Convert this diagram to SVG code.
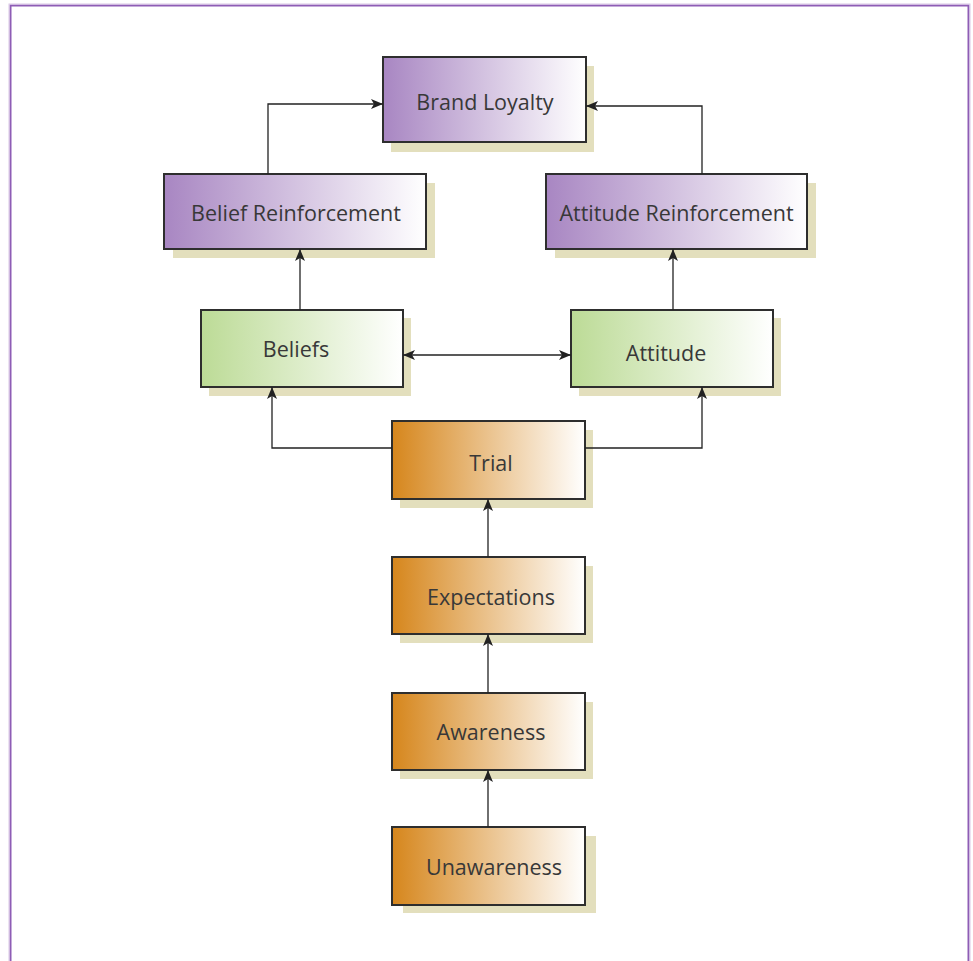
<svg xmlns="http://www.w3.org/2000/svg" width="973" height="961" viewBox="0 0 973 961">
  <defs>
    <linearGradient id="gPurple" x1="0" y1="0" x2="1" y2="0">
      <stop offset="0" stop-color="#A886C2"/>
      <stop offset="1" stop-color="#FFFFFF"/>
    </linearGradient>
    <linearGradient id="gGreen" x1="0" y1="0" x2="1" y2="0">
      <stop offset="0" stop-color="#BCDB96"/>
      <stop offset="1" stop-color="#FFFFFF"/>
    </linearGradient>
    <linearGradient id="gOrange" x1="0" y1="0" x2="1" y2="0">
      <stop offset="0" stop-color="#D6861C"/>
      <stop offset="1" stop-color="#FFFFFF"/>
    </linearGradient>
    <marker id="arrow" viewBox="0 0 12 10" refX="12" refY="5" markerWidth="12" markerHeight="10" markerUnits="userSpaceOnUse" orient="auto-start-reverse">
      <path d="M0,0 L12,5 L0,10 L3,5 Z" fill="#222"/>
    </marker>
  </defs>
  <style>
    .shadow { fill: #E3DFBD; }
    .box { stroke: #2E2E2E; stroke-width: 2; }
    .label { font-family: "Open Sans", "Noto Sans", "Liberation Sans", sans-serif; font-size: 21.5px; font-weight: 400; fill: #383838; text-anchor: middle; dominant-baseline: central; }
    .conn { fill: none; stroke: #222; stroke-width: 1.3; }
  </style>

  <rect width="973" height="961" fill="#FFFFFF"/>
  <!-- page frame -->
  <rect x="10.5" y="5.5" width="958" height="980" fill="none" stroke="#8E5DB5" stroke-width="2"/>
  <rect x="9" y="4" width="961" height="983" fill="none" stroke="#D9C8E6" stroke-width="1"/>

  <g id="brand-loyalty">
    <rect class="shadow" x="391" y="66" width="203" height="86"/>
    <rect class="box" x="383" y="57" width="203" height="85" fill="url(#gPurple)"/>
    <text class="label" x="485" y="101">Brand Loyalty</text>
  </g>

  <g id="belief-reinforcement">
    <rect class="shadow" x="173" y="183" width="262" height="75"/>
    <rect class="box" x="164" y="174" width="262" height="75" fill="url(#gPurple)"/>
    <text class="label" x="296" y="212">Belief Reinforcement</text>
  </g>

  <g id="attitude-reinforcement">
    <rect class="shadow" x="555" y="183" width="261" height="75"/>
    <rect class="box" x="546" y="174" width="261" height="75" fill="url(#gPurple)"/>
    <text class="label" x="676.5" y="212">Attitude Reinforcement</text>
  </g>

  <g id="beliefs">
    <rect class="shadow" x="209" y="318" width="202" height="78"/>
    <rect class="box" x="201" y="310" width="202" height="77" fill="url(#gGreen)"/>
    <text class="label" x="296" y="348">Beliefs</text>
  </g>

  <g id="attitude">
    <rect class="shadow" x="579" y="318" width="202" height="78"/>
    <rect class="box" x="571" y="310" width="202" height="77" fill="url(#gGreen)"/>
    <text class="label" x="666" y="352">Attitude</text>
  </g>

  <g id="trial">
    <rect class="shadow" x="400" y="430" width="193" height="78"/>
    <rect class="box" x="392" y="421" width="193" height="78" fill="url(#gOrange)"/>
    <text class="label" x="491" y="462">Trial</text>
  </g>

  <g id="expectations">
    <rect class="shadow" x="400" y="566" width="193" height="77"/>
    <rect class="box" x="392" y="557" width="193" height="77" fill="url(#gOrange)"/>
    <text class="label" x="491" y="596">Expectations</text>
  </g>

  <g id="awareness">
    <rect class="shadow" x="400" y="702" width="193" height="77"/>
    <rect class="box" x="392" y="693" width="193" height="77" fill="url(#gOrange)"/>
    <text class="label" x="491" y="731">Awareness</text>
  </g>

  <g id="unawareness">
    <rect class="shadow" x="403" y="836" width="193" height="77"/>
    <rect class="box" x="392" y="827" width="193" height="78" fill="url(#gOrange)"/>
    <text class="label" x="494" y="866">Unawareness</text>
  </g>

  <g id="connectors">
    <path class="conn" d="M268,174 V104 H383" marker-end="url(#arrow)"/>
    <path class="conn" d="M702,174 V106 H586" marker-end="url(#arrow)"/>
    <path class="conn" d="M300,310 V249" marker-end="url(#arrow)"/>
    <path class="conn" d="M673,310 V249" marker-end="url(#arrow)"/>
    <path class="conn" d="M403,355 H571" marker-start="url(#arrow)" marker-end="url(#arrow)"/>
    <path class="conn" d="M392,448 H272 V387" marker-end="url(#arrow)"/>
    <path class="conn" d="M585,448 H702 V387" marker-end="url(#arrow)"/>
    <path class="conn" d="M488,557 V499" marker-end="url(#arrow)"/>
    <path class="conn" d="M488,693 V634" marker-end="url(#arrow)"/>
    <path class="conn" d="M488,827 V770" marker-end="url(#arrow)"/>
  </g>
</svg>
